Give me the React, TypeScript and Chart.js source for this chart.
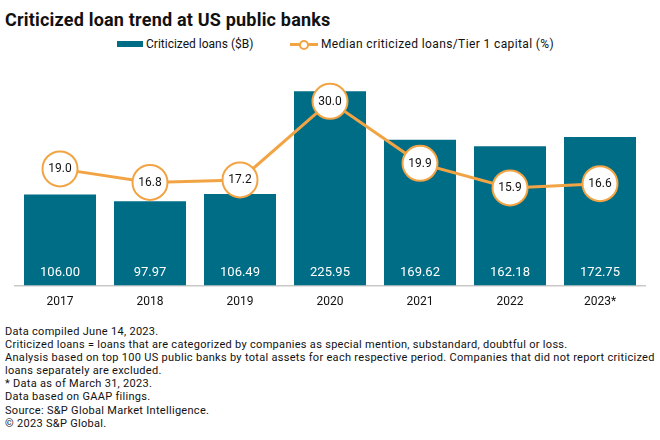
import React, { useEffect, useRef } from "react";
import { Chart, registerables } from "chart.js";

Chart.register(...registerables);

const categories = ["2017", "2018", "2019", "2020", "2021", "2022", "2023*"];
const loansB = [106.0, 97.97, 106.49, 225.95, 169.62, 162.18, 172.75];
const ratioPct = [19.0, 16.8, 17.2, 30.0, 19.9, 15.9, 16.6];
const barLabels = ["106.00", "97.97", "106.49", "225.95", "169.62", "162.18", "172.75"];
const lineLabels = ["19.0", "16.8", "17.2", "30.0", "19.9", "15.9", "16.6"];

const title = "Criticized loan trend at US public banks";
const legendBar = "Criticized loans ($B)";
const legendLine = "Median criticized loans/Tier 1 capital (%)";
const footnotes = [
  "Data compiled June 14, 2023.",
  "Criticized loans = loans that are categorized by companies as special mention, substandard, doubtful or loss.",
  "Analysis based on top 100 US public banks by total assets for each respective period. Companies that did not report criticized",
  "loans separately are excluded.",
  "* Data as of March 31, 2023.",
  "Data based on GAAP filings.",
  "Source: S&P Global Market Intelligence.",
  "\u00a9 2023 S&P Global.",
];

const TEAL = "#006d86";
const ORANGE = "#f2a444";
const FONT = "Roboto, 'Liberation Sans', sans-serif";

const labelPlugin = {
  id: "valueLabels",
  afterDatasetsDraw(chart: any) {
    const ctx = chart.ctx;
    ctx.save();
    ctx.textAlign = "center";
    ctx.textBaseline = "middle";
    chart.data.datasets.forEach((ds: any, i: number) => {
      const meta = chart.getDatasetMeta(i);
      meta.data.forEach((el: any, j: number) => {
        if (ds.type === "bar") {
          ctx.fillStyle = "#ffffff";
          ctx.font = `13px ${FONT}`;
          ctx.fillText(barLabels[j], el.x, chart.chartArea.bottom - 13);
        } else {
          ctx.fillStyle = "#111111";
          ctx.font = `12px ${FONT}`;
          ctx.fillText(lineLabels[j], el.x, el.y + 0.5);
        }
      });
    });
    ctx.restore();
  },
};

export default function App() {
  const ref = useRef<HTMLCanvasElement>(null);
  useEffect(() => {
    if (!ref.current) return;
    const chart = new Chart(ref.current, {
      data: {
        labels: categories,
        datasets: [
          {
            type: "line",
            label: legendLine,
            data: ratioPct,
            yAxisID: "y2",
            borderColor: ORANGE,
            borderWidth: 3,
            pointRadius: 17.5,
            pointHoverRadius: 17.5,
            pointBorderWidth: 2,
            pointBackgroundColor: "#ffffff",
            pointBorderColor: ORANGE,
            order: 0,
          },
          {
            type: "bar",
            label: legendBar,
            data: loansB,
            yAxisID: "y",
            backgroundColor: TEAL,
            barPercentage: 0.8,
            categoryPercentage: 1.0,
            order: 1,
          },
        ],
      } as any,
      options: {
        animation: false,
        responsive: false,
        maintainAspectRatio: false,
        layout: { autoPadding: false, padding: { top: 10.6, left: 15, right: 15, bottom: 0 } },
        plugins: { legend: { display: false }, tooltip: { enabled: false }, title: { display: false } },
        scales: {
          x: {
            grid: { display: false, drawTicks: false },
            border: { display: true, color: "#c9c9c9", width: 1.5 },
            ticks: { color: "#111111", font: { family: FONT, size: 12 }, padding: 9 },
            afterFit: (s: any) => { s.height = 24.4; },
          },
          y: { display: false, min: 0, max: 250 },
          y2: { display: false, min: 0, max: 35, position: "right" },
        },
      } as any,
      plugins: [labelPlugin],
    });
    return () => chart.destroy();
  }, []);

  return (
    <div style={{ position: "fixed", left: 0, top: 0, width: 660, height: 440, background: "#fff", fontFamily: FONT, color: "#111" }}>
      <div style={{ position: "absolute", left: 5, top: 9, fontSize: 18, fontWeight: 700, whiteSpace: "nowrap", lineHeight: "22px", letterSpacing: 0.2 }}>{title}</div>
      <span style={{ position: "absolute", left: 117, top: 41, width: 26, height: 6, background: TEAL }} />
      <span style={{ position: "absolute", left: 146, top: 36, fontSize: 12, lineHeight: "16px", whiteSpace: "nowrap" }}>{legendBar}</span>
      <span style={{ position: "absolute", left: 290, top: 42.5, width: 28, height: 3, background: ORANGE }} />
      <span style={{ position: "absolute", left: 299, top: 40, width: 6, height: 6, borderRadius: "50%", background: "#fff", border: `2px solid ${ORANGE}` }} />
      <span style={{ position: "absolute", left: 321, top: 36, fontSize: 12, lineHeight: "16px", whiteSpace: "nowrap", letterSpacing: 0.38 }}>{legendLine}</span>
      <canvas ref={ref} width={660} height={250} style={{ position: "absolute", left: 0, top: 60, width: 660, height: 250 }} />
      <div style={{ position: "absolute", left: 5, top: 325, fontSize: 11, lineHeight: "13.1px", whiteSpace: "nowrap", letterSpacing: 0.3 }}>
        {footnotes.map((t, i) => (
          <div key={i}>{t}</div>
        ))}
      </div>
    </div>
  );
}
